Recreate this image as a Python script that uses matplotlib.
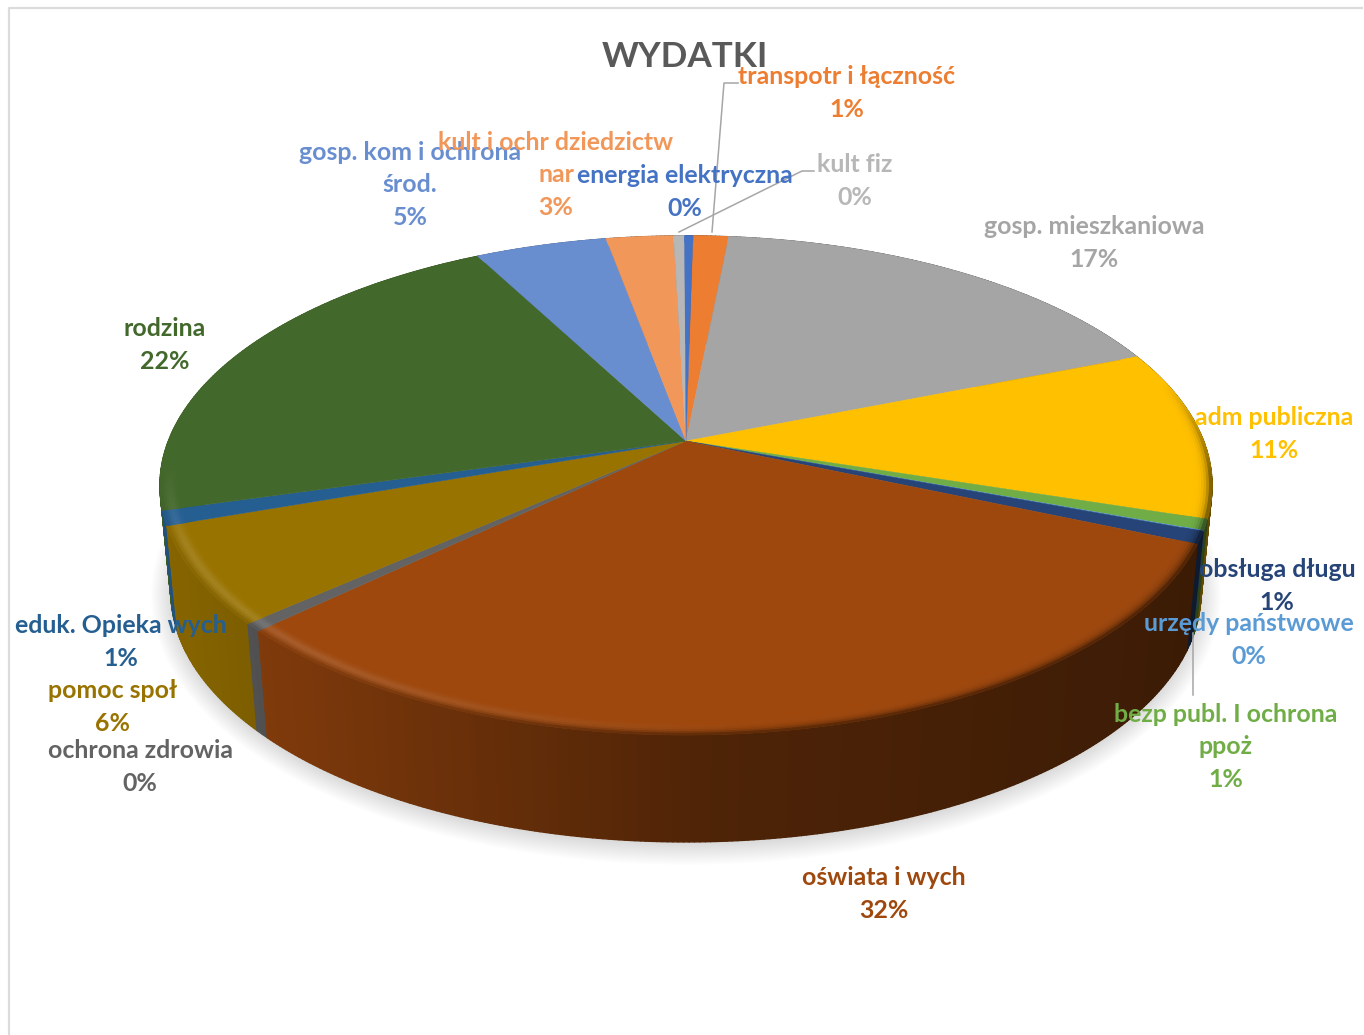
"""
3D style pie chart of expenses (WYDATKI).
"""

import matplotlib
matplotlib.use('Agg')
import matplotlib.pyplot as plt
import numpy as np
from matplotlib.collections import PolyCollection
from matplotlib.patches import Ellipse

plt.rcParams['font.family'] = ['Lato', 'DejaVu Sans']

# clockwise from the top
categories = ['transpotr i łączność', 'gosp. mieszkaniowa', 'adm publiczna',
              'bezp publ. I ochrona\nppoż', 'urzędy państwowe', 'obsługa długu',
              'oświata i wych', 'ochrona zdrowia', 'pomoc społ', 'eduk. Opieka wych',
              'rodzina', 'gosp. kom i ochrona\nśrod.', 'kult i ochr dziedzictw\nnar',
              'kult fiz', 'energia elektryczna']
values = [1.3, 17.4, 11.0, 0.7, 0.05, 0.8, 31.4, 0.5, 6.25, 0.95, 21.7, 4.8, 2.45, 0.4, 0.3]
percent_labels = ['1%', '17%', '11%', '1%', '0%', '1%', '32%', '0%', '6%', '1%',
                  '22%', '5%', '3%', '0%', '0%']
colors = ['#ED7D31', '#A5A5A5', '#FFC000', '#70AD47', '#5B9BD5', '#264478', '#9E480E',
          '#636363', '#997300', '#255E91', '#43682B', '#698ED0', '#F1975A', '#B7B7B7',
          '#4472C4']
label_x = [847, 1094, 1274, 1226, 1249, 1277, 884, 140, 113, 121, 165, 410, 556, 855, 685]
label_y = [93, 243, 434, 747, 640, 586, 894, 767, 707, 642, 345, 185, 175, 181, 192]

START = 0.25 / 100 * 2 * np.pi

# perspective circle -> screen
CX, CY = 686.0, 441.0
R, S, K = 517.6, 241.6, 0.178
TOP_CY, TOP_RX, TOP_RY = 485.0, 526.0, 250.0
BOT_CY, BOT_RX, BOT_RY = 592.0, 515.0, 250.0


def project(theta, t=1.0):
    u, v = t * np.sin(theta), t * np.cos(theta)
    d = 1 + K * v
    return CX + R * u / d, CY - S * v / d


def bottom_point(theta):
    x, y = project(theta)
    cos_p = (x - CX) / TOP_RX
    sin_p = (TOP_CY - y) / TOP_RY
    return CX + BOT_RX * cos_p, BOT_CY - BOT_RY * sin_p


def wall_factor(x):
    return np.interp(x, [160, 270, 700, 1190], [0.88, 0.80, 0.50, 0.38])


def to_rgb(c):
    return np.array(matplotlib.colors.to_rgb(c))


fig = plt.figure(figsize=(13.64, 10.35), dpi=100)
ax = fig.add_axes([0, 0, 1, 1])
ax.set_xlim(0, 1364)
ax.set_ylim(1035, 0)
ax.axis('off')

# outer chart border
ax.plot([8.5, 8.5, 1362], [1035, 8, 8], color='#dcdcdc', lw=1.6, zorder=1)

# soft shadow under the pie
for i in range(22):
    grow = 20 - i * 1.2
    ax.add_patch(Ellipse((CX, BOT_CY + 3), 2 * (BOT_RX + grow), 2 * (BOT_RY + grow),
                         fc='black', ec='none', alpha=0.008, zorder=2))

edges = START + np.cumsum([0] + values) / sum(values) * 2 * np.pi
walls = []
ring_polys, ring_cols = [], []
rings = np.linspace(0.962, 1.0, 9)

for i, c in enumerate(colors):
    base = to_rgb(c)
    n = max(3, int((edges[i + 1] - edges[i]) / np.radians(0.5)))
    th = np.linspace(edges[i], edges[i + 1], n)

    # side wall, kept with its depth so the back is painted first
    for a, b in zip(th[:-1], th[1:]):
        x0, y0 = project(a)
        x1, y1 = project(b)
        x2, y2 = bottom_point(b)
        x3, y3 = bottom_point(a)
        walls.append((np.cos((a + b) / 2), [(x0, y0), (x1, y1), (x2, y2), (x3, y3)],
                      base * wall_factor((x0 + x1) / 2)))

    # top face
    xs, ys = project(th)
    ax.fill(np.r_[CX, xs], np.r_[CY, ys], color=c, lw=0.3, zorder=4)

    # bevel along the front of the rim
    for t0, t1 in zip(rings[:-1], rings[1:]):
        tm = (t0 + t1) / 2
        w = (tm - rings[0]) / (rings[-1] - rings[0])
        for a, b in zip(th[:-1], th[1:]):
            xa, ya = project(a, t0)
            xb, yb = project(b, t0)
            xc, yc = project(b, t1)
            xd, yd = project(a, t1)
            v = np.cos((a + b) / 2)
            if xa > CX:
                dark = np.clip((0.25 - v) / 0.4, 0, 1)
            else:
                dark = np.clip((-0.1 - v) / 0.3, 0, 1)
            wall = base * wall_factor((xa + xb) / 2)
            col = base * (1 - w ** 4 * dark) + wall * w ** 4 * dark
            # highlight on the light (left) part of the front
            light = np.clip((750 - xa) / 450, 0, 1) * np.clip((-0.1 - v) / 0.3, 0, 1)
            bump = np.exp(-((w - 0.55) / 0.28) ** 2)
            col = col + (1 - col) * 0.12 * light * bump
            ring_polys.append([(xa, ya), (xb, yb), (xc, yc), (xd, yd)])
            ring_cols.append(np.clip(col, 0, 1))

walls.sort(key=lambda q: -q[0])
wall_polys = [q[1] for q in walls]
wall_cols = [q[2] for q in walls]
ax.add_collection(PolyCollection(wall_polys, facecolors=wall_cols, edgecolors=wall_cols,
                                 linewidths=1.0, zorder=3))
ax.add_collection(PolyCollection(ring_polys, facecolors=ring_cols, edgecolors=ring_cols,
                                 linewidths=0.6, zorder=5))

# leader lines
leader = '#a6a6a6'
ax.plot([738, 724, 712], [83, 83, 232], color=leader, lw=1.1, zorder=6)
ax.plot([814, 802, 679], [171, 171, 232], color=leader, lw=1.1, zorder=6)
ax.plot([1193, 1193], [633, 695], color=leader, lw=1.1, zorder=6)

ax.text(685, 57, 'WYDATKI', color='#595959', fontsize=25.3, fontweight='bold',
        ha='center', va='center', zorder=7)

for name, pct, c, x, y in zip(categories, percent_labels, colors, label_x, label_y):
    ax.text(x, y, f'{name}\n{pct}', color=c, fontsize=17.9, fontweight='bold',
            ha='center', va='center', linespacing=1.5, zorder=8)

fig.savefig('out.png', dpi=100)
